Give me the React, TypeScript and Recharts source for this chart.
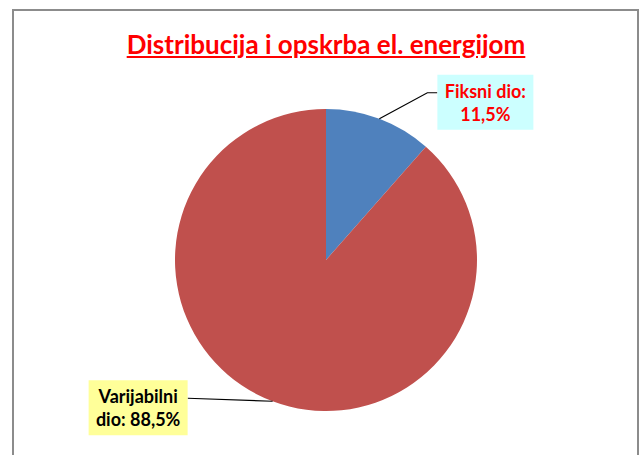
import { PieChart, Pie, Cell } from 'recharts';

const TITLE = 'Distribucija i opskrba el. energijom';
const sliceNames = ['Fiksni dio', 'Varijabilni dio'];
const sliceValues = [11.5, 88.5];
const sliceColors = ['#4F81BD', '#C0504D'];
const labelLines = [
  ['Fiksni dio:', '11,5%'],
  ['Varijabilni', 'dio: 88,5%'],
];

const data = sliceNames.map((name, i) => ({ name, value: sliceValues[i] }));

const FONT = 'Lato, "Open Sans", sans-serif';
const RADIAN = Math.PI / 180;

const renderLabel = ({ cx, cy, midAngle, outerRadius, index }: any) => {
  const ax = cx + outerRadius * Math.cos(-midAngle * RADIAN);
  const ay = cy + outerRadius * Math.sin(-midAngle * RADIAN);
  const lines = labelLines[index];

  if (index === 0) {
    // box to the upper right, elbow leader line
    const ex = ax + 48;
    const ey = ay - 26;
    const bx = ex + 10;
    const by = ey - 18;
    const w = 96;
    const h = 55;
    return (
      <g key={`lbl-${index}`}>
        <polyline points={`${ax},${ay} ${ex},${ey} ${bx},${ey}`} fill="none" stroke="#000" strokeWidth={1.2} />
        <rect x={bx} y={by} width={w} height={h} fill="#CCFFFF" />
        <text x={bx + w / 2} y={by + 23} textAnchor="middle" fill="#FF0000" fontFamily={FONT} fontWeight="bold" fontSize={18}>
          {lines[0]}
        </text>
        <text x={bx + w / 2} y={by + 46} textAnchor="middle" fill="#FF0000" fontFamily={FONT} fontWeight="bold" fontSize={18}>
          {lines[1]}
        </text>
      </g>
    );
  }

  // box to the left, straight leader line
  const w = 99;
  const h = 55;
  const bx = ax - 85 - w;
  const by = ay - 21;
  return (
    <g key={`lbl-${index}`}>
      <line x1={ax} y1={ay} x2={bx + w} y2={ay - 3} stroke="#000" strokeWidth={1.2} />
      <rect x={bx} y={by} width={w} height={h} fill="#FFFF99" />
      <text x={bx + w / 2} y={by + 23} textAnchor="middle" fill="#000" fontFamily={FONT} fontWeight="bold" fontSize={18}>
        {lines[0]}
      </text>
      <text x={bx + w / 2} y={by + 46} textAnchor="middle" fill="#000" fontFamily={FONT} fontWeight="bold" fontSize={18}>
        {lines[1]}
      </text>
    </g>
  );
};

export default function App() {
  return (
    <div style={{ position: 'absolute', left: 0, top: 0, width: 641, height: 455, background: '#fff', overflow: 'hidden' }}>
      {/* chart area frame */}
      <div
        style={{
          position: 'absolute',
          left: 12,
          top: 9,
          width: 627,
          height: 470,
          border: '2px solid #8c8c8c',
          boxSizing: 'border-box',
        }}
      />
      <div
        style={{
          position: 'absolute',
          left: 0,
          top: 29,
          width: 652,
          textAlign: 'center',
          fontFamily: FONT,
          fontWeight: 'bold',
          fontSize: 26,
          color: '#FF0000',
          textDecoration: 'underline',
          lineHeight: '30px',
        }}
      >
        {TITLE}
      </div>
      <div style={{ position: 'absolute', left: 0, top: 0 }}>
        <PieChart width={641} height={455} margin={{ top: 0, right: 0, bottom: 0, left: 0 }}>
          <Pie
            data={data}
            dataKey="value"
            nameKey="name"
            cx={326}
            cy={260}
            outerRadius={151}
            startAngle={90}
            endAngle={-270}
            stroke="none"
            label={renderLabel}
            labelLine={false}
            isAnimationActive={false}
          >
            {data.map((d, i) => (
              <Cell key={d.name} fill={sliceColors[i]} />
            ))}
          </Pie>
        </PieChart>
      </div>
    </div>
  );
}
